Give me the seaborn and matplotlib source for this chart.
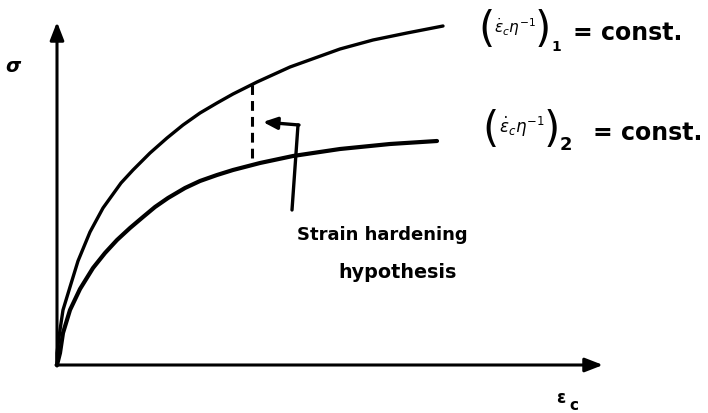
import matplotlib
matplotlib.use("Agg")
import matplotlib.pyplot as plt
import seaborn as sns
import pandas as pd

# Schematic stress-strain curves for two creep-rate levels (arbitrary units)
strain_1 = [0, 0, 3, 6, 13, 21, 33, 46, 64, 76, 93, 110, 126, 143, 160, 176,
            200, 233, 258, 283, 316, 350, 386]
stress_1 = [0, 12, 35, 55, 78, 104, 133, 157, 182, 195, 212, 227, 240, 252, 262, 271,
            283, 298, 307, 316, 325, 332, 339]

strain_2 = [0, 3, 6, 13, 23, 36, 48, 60, 73, 86, 98, 111, 128, 143, 160, 176,
            203, 236, 283, 333, 380]
stress_2 = [0, 12, 32, 55, 76, 97, 112, 125, 137, 148, 158, 167, 177, 184, 190, 195,
            202, 209, 216, 221, 224]

# Strain at which the hardening hypothesis is illustrated
hyp_strain = 195
hyp_top, hyp_bottom = 281, 207

# Pointer from the caption to the dashed line
pointer_x = [235, 241, 206]
pointer_y = [155, 240, 243]

caption = ["Strain hardening", "hypothesis"]

sns.set_theme(style="white")
plt.rcParams["font.family"] = ["DejaVu Sans"]
plt.rcParams["mathtext.fontset"] = "dejavusans"

fig = plt.figure(figsize=(7.08, 4.13), dpi=100)
ax = fig.add_axes([0, 0, 1, 1])
ax.set_xlim(-57, 651)
ax.set_ylim(-48, 365)
ax.axis("off")

curve_1 = pd.DataFrame({"strain": strain_1, "stress": stress_1})
curve_2 = pd.DataFrame({"strain": strain_2, "stress": stress_2})
sns.lineplot(data=curve_1, x="strain", y="stress", sort=False, estimator=None,
             color="black", lw=2.4, ax=ax, solid_capstyle="round",
             solid_joinstyle="round")
sns.lineplot(data=curve_2, x="strain", y="stress", sort=False, estimator=None,
             color="black", lw=3.0, ax=ax, solid_capstyle="round",
             solid_joinstyle="round")

# axes with arrowheads
arrow_kw = dict(arrowstyle="-|>,head_length=0.9,head_width=0.35", color="black",
                lw=2.2, shrinkA=0, shrinkB=0)
ax.annotate("", xy=(0, 343), xytext=(0, -1), arrowprops=arrow_kw)
ax.annotate("", xy=(546, 0), xytext=(-1, 0), arrowprops=arrow_kw)

# dashed vertical line between the curves
ax.plot([hyp_strain, hyp_strain], [hyp_bottom, hyp_top], color="black", lw=2.2,
        linestyle=(0, (3.2, 2.0)))

# pointer polyline with arrowhead
ax.plot(pointer_x[:2], pointer_y[:2], color="black", lw=2.4, solid_capstyle="round")
ax.annotate("", xy=(pointer_x[2], pointer_y[2]), xytext=(pointer_x[1] + 1, pointer_y[1]),
            arrowprops=dict(arrowstyle="-|>,head_length=0.7,head_width=0.3",
                            color="black", lw=2.4, shrinkA=0, shrinkB=0))

bold = dict(color="black", fontweight="bold")
inner = r"$\dot{\epsilon}_c\eta^{-1}$"


def rate_label(x_open, x_close, y_mid, x_inner, inner_size, sub, x_sub, y_sub,
               sub_size, x_eq, y_base):
    ax.text(x_open, y_mid, "(", fontsize=30, ha="center", va="center", color="black")
    ax.text(x_close, y_mid, ")", fontsize=30, ha="center", va="center", color="black")
    ax.text(x_inner, y_mid + 3, inner, fontsize=inner_size, ha="center", va="center",
            color="black")
    ax.text(x_sub, y_sub, sub, fontsize=sub_size, ha="left", va="center", **bold)
    ax.text(x_eq, y_base, "= const.", fontsize=17, ha="left", va="baseline", **bold)


rate_label(430, 486, 335, 458, 11, "1", 494, 318, 10, 516, 325)
rate_label(434, 495, 235, 465, 12, "2", 503, 220, 13, 536, 225)

ax.text(240, 125, caption[0], fontsize=13, ha="left", va="baseline", **bold)
ax.text(281, 87, caption[1], fontsize=13.8, ha="left", va="baseline", **bold)

ax.text(-44, 298, "σ", fontsize=14, style="italic", ha="center", va="center", **bold)
ax.text(504, -33, "ε", fontsize=12, ha="center", va="center", **bold)
ax.text(517, -41, "c", fontsize=11, ha="center", va="center", **bold)

fig.savefig("out.png", dpi=100, facecolor="white")
